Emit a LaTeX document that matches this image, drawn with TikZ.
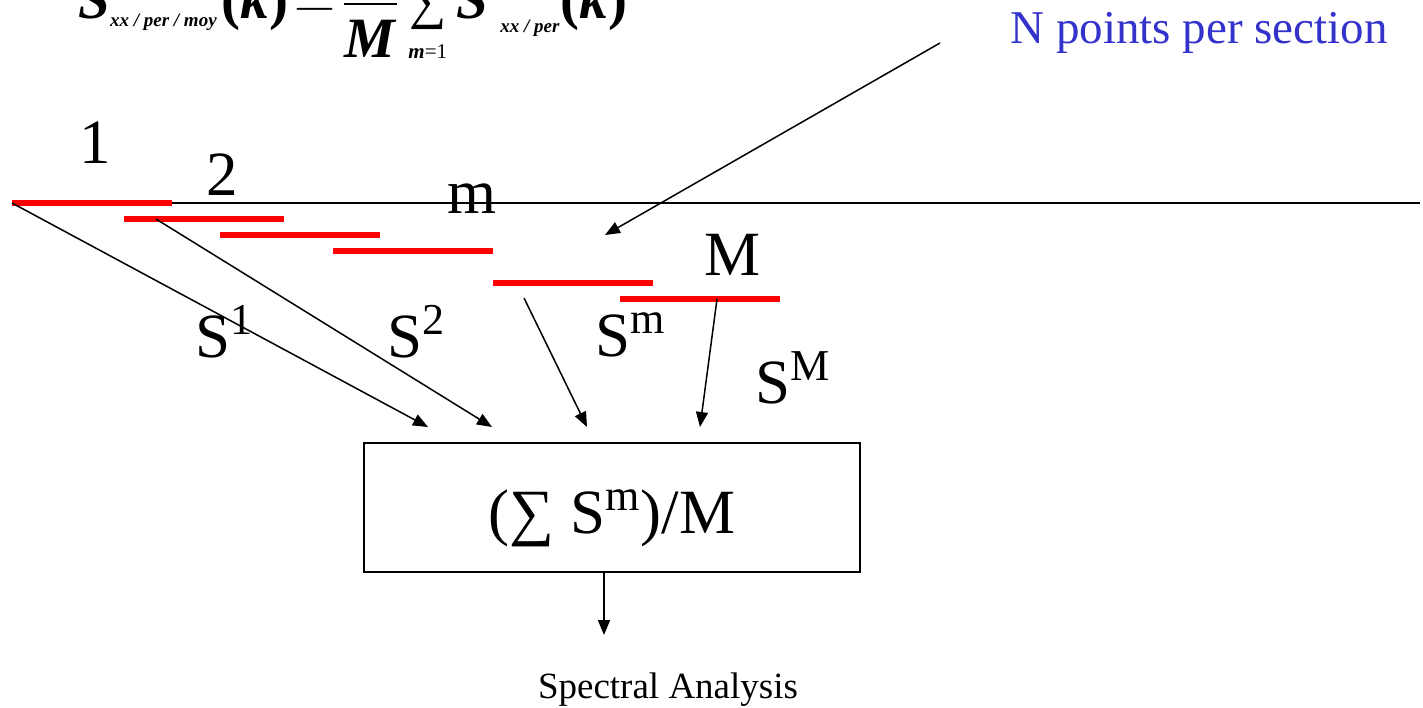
\documentclass[tikz,border=0pt]{standalone}
\usepackage{fix-cm}
\usepackage{amsmath}
\usepackage{fontspec}
\setmainfont{Liberation Serif}
\usetikzlibrary{arrows.meta}
\definecolor{SegRed}{HTML}{FF0000}
\definecolor{NoteBlue}{HTML}{3333CC}
\newcommand{\Sseg}[1]{S\textsuperscript{#1}}
\newcommand{\bi}[1]{\textbf{\textit{#1}}}
\newcommand{\subtxt}[1]{\mbox{\fontsize{9.5}{11}\selectfont\bi{#1}}}
\newcommand{\limtxt}{\mbox{\fontsize{10.5}{12}\selectfont\bi{m}=1}}
\tikzset{
  every node/.style={inner sep=0pt, text=black},
  biglabel/.style={font=\fontsize{31.5}{36}\selectfont},
  formula/.style={font=\fontsize{28.5}{34}\selectfont},
  note/.style={font=\fontsize{23.5}{28}\selectfont, text=NoteBlue},
  caption/.style={font=\fontsize{18.5}{22}\selectfont},
  timeline/.style={draw=black, line width=1pt},
  segment/.style={draw=SegRed, line width=3pt},
  feed/.style={-{Triangle[length=7.5pt,width=6pt]}, draw=black, line width=0.75pt},
  sumbox/.style={draw=black, line width=1pt, minimum width=248pt, minimum height=64.5pt},
}

\begin{document}
\begin{tikzpicture}[x=0.5pt, y=-0.5pt]
  \useasboundingbox (0,0) rectangle (1423,707);
  \clip (0,0) rectangle (1423,707);
  % Averaged periodogram, cut at the top
  \node[formula, anchor=base west] (psd) at (78,18)
    {\thickmuskip=2mu $\displaystyle \bi{S}_{\subtxt{xx / per / moy}}\hspace{2pt}\textbf{(}\bi{k}\textbf{)} = \frac{\textbf{1}}{\bi{M}}\mathop{\mbox{\fontsize{26}{28}\selectfont ∑}}\limits_{\limtxt}^{\subtxt{M}}\bi{S}^{\,\subtxt{m}}_{\hspace{6pt}\subtxt{xx / per}}\textbf{(}\bi{k}\textbf{)}$};
  % Signal and its sections
  \draw[timeline] (12,203) -- (1420,203);
  \foreach \xa/\ya in {12/203, 124/219, 220/235, 333/251, 493/283, 620/299} {
    \draw[segment] (\xa,\ya) -- ++(160,0);
  }
  \node[biglabel, anchor=base] (lab1) at (95,163) {1};
  \node[biglabel, anchor=base] (lab2) at (222,195) {2};
  \node[biglabel, anchor=base] (labm) at (472,213) {m};
  \node[biglabel, anchor=base] (labM) at (732,275) {M};
  \node[note, anchor=base east] (npts) at (1388,43) {N points per section};
  % Averaging block
  \node[sumbox] (avg) at (612,507.5) {};
  \node[biglabel, anchor=base] (avgtext) at (612,533) {(∑ \Sseg{m})/M};
  \node[caption, anchor=base] (spec) at (668,698) {Spectral Analysis};
  \node[biglabel, anchor=base west] (S1) at (195,357) {\Sseg{1}};
  \node[biglabel, anchor=base west] (S2) at (387,357) {\Sseg{2}};
  \node[biglabel, anchor=base west] (Sm) at (595,356) {\Sseg{m}};
  \node[biglabel, anchor=base west] (SM) at (755,403) {\Sseg{M}};
  % Connectors
  \coordinate (from1) at (12,203);
  \coordinate (from2) at (156,219);
  \coordinate (fromm) at (524,298);
  \coordinate (fromM) at (717,299);
  \coordinate (to1) at (428,427);
  \coordinate (to2) at (492,427);
  \coordinate (tom) at (587,427);
  \coordinate (toM) at (700,427);
  \coordinate (notetail) at (940,43);
  \coordinate (notehead) at (605,235);
  \coordinate (out) at (604,635);
  \draw[feed] (from1) -- (to1);
  \draw[feed] (from2) -- (to2);
  \draw[feed] (fromm) -- (tom);
  \draw[feed] (fromM) -- (toM);
  \draw[feed] (notetail) -- (notehead);
  \draw[feed] (avg.south -| out) -- (out);
\end{tikzpicture}
\end{document}
